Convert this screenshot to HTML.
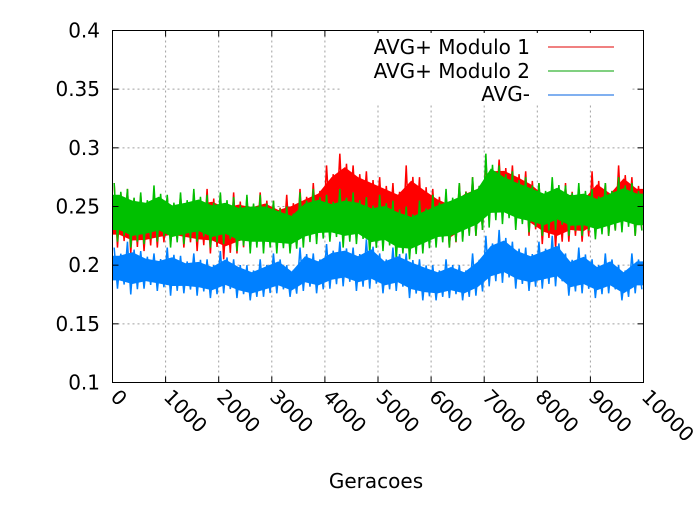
<!DOCTYPE html>
<html><head><meta charset="utf-8"><style>
body{margin:0;background:#fff}
text{font-family:"DejaVu Sans","Liberation Sans",sans-serif;font-size:20px;fill:#000}
</style></head><body>
<svg id="chart" width="700" height="500" viewBox="0 0 700 500" xmlns="http://www.w3.org/2000/svg">
<g id="grid"></g>
<g id="series"></g>
<rect x="112.5" y="30.5" width="531" height="352" fill="none" stroke="#000" stroke-width="1"/>
<g id="ticks"></g>
<text x="376" y="488" text-anchor="middle">Geracoes</text>
<rect x="340" y="33" width="290" height="72" fill="#fff"/>
<g>
<text x="530" y="54" text-anchor="end">AVG+ Modulo 1</text>
<line x1="548" y1="47" x2="614" y2="47" stroke="#e00000" stroke-width="1"/>
<text x="530" y="78" text-anchor="end">AVG+ Modulo 2</text>
<line x1="548" y1="71" x2="614" y2="71" stroke="#00a000" stroke-width="1"/>
<text x="530" y="101" text-anchor="end">AVG-</text>
<line x1="548" y1="95" x2="614" y2="95" stroke="#0060e0" stroke-width="1"/>
</g>
</svg>
<script>
const xTicks=[0,1000,2000,3000,4000,5000,6000,7000,8000,9000,10000];
const yTicks=[0.1,0.15,0.2,0.25,0.3,0.35,0.4];
const yTickLabels=["0.1","0.15","0.2","0.25","0.3","0.35","0.4"];
const bucketSize=250;
const blueHi=[0.215,0.22,0.212,0.21,0.215,0.208,0.21,0.205,0.212,0.205,0.2,0.205,0.21,0.2,0.215,0.21,0.218,0.22,0.215,0.222,0.21,0.215,0.21,0.205,0.2,0.205,0.2,0.21,0.225,0.23,0.22,0.215,0.22,0.225,0.21,0.215,0.205,0.21,0.2,0.21];
const blueLo=[0.18,0.175,0.18,0.178,0.174,0.176,0.174,0.172,0.176,0.172,0.17,0.173,0.176,0.173,0.178,0.176,0.18,0.182,0.178,0.18,0.176,0.178,0.172,0.17,0.17,0.172,0.17,0.174,0.182,0.185,0.18,0.178,0.18,0.182,0.174,0.176,0.172,0.176,0.17,0.176];
const greenHi=[0.27,0.265,0.262,0.268,0.26,0.262,0.265,0.26,0.262,0.258,0.26,0.26,0.255,0.25,0.262,0.265,0.26,0.265,0.262,0.258,0.26,0.255,0.25,0.255,0.26,0.265,0.27,0.275,0.295,0.285,0.28,0.275,0.27,0.275,0.268,0.27,0.265,0.27,0.275,0.27];
const greenLo=[0.22,0.215,0.218,0.22,0.215,0.218,0.22,0.215,0.218,0.212,0.21,0.21,0.21,0.21,0.215,0.218,0.22,0.215,0.218,0.21,0.212,0.205,0.205,0.21,0.215,0.215,0.22,0.225,0.232,0.235,0.23,0.228,0.225,0.23,0.225,0.225,0.222,0.225,0.228,0.225];
const redHi=[0.27,0.265,0.26,0.26,0.258,0.26,0.262,0.265,0.26,0.262,0.258,0.262,0.255,0.26,0.265,0.27,0.285,0.295,0.285,0.28,0.275,0.27,0.285,0.275,0.265,0.26,0.27,0.275,0.29,0.29,0.285,0.28,0.27,0.265,0.27,0.265,0.28,0.27,0.285,0.275];
const redLo=[0.215,0.21,0.212,0.215,0.218,0.215,0.212,0.21,0.205,0.21,0.215,0.215,0.215,0.212,0.22,0.225,0.235,0.238,0.235,0.23,0.225,0.22,0.22,0.218,0.22,0.215,0.222,0.225,0.24,0.242,0.235,0.225,0.218,0.215,0.22,0.22,0.225,0.225,0.23,0.225];

const NS="http://www.w3.org/2000/svg";
const X0=112.5,X1=643.5,Y0=382.5,Y1=30.5;
function xs(v){return X0+(v-0)/(10000-0)*(X1-X0);}
function ys(v){return Y0-(v-0.1)/(0.4-0.1)*(Y0-Y1);}
function mk(tag,attrs,parent){const e=document.createElementNS(NS,tag);for(const k in attrs)e.setAttribute(k,attrs[k]);parent.appendChild(e);return e;}
const grid=document.getElementById('grid'),ticks=document.getElementById('ticks'),ser=document.getElementById('series');

xTicks.forEach((t,i)=>{
  const x=xs(t);
  if(i>0&&i<xTicks.length-1){
    const g=mk('line',{x1:x,y1:Y1,x2:x,y2:Y0,stroke:'#a0a0a0','stroke-dasharray':'2,3'},grid);
    
    
  }
  const a=mk('line',{x1:x,y1:Y0,x2:x,y2:Y0-6,stroke:'#000'},ticks);
  
  
  const b=mk('line',{x1:x,y1:Y1,x2:x,y2:Y1+6,stroke:'#000'},ticks);
  
  
  const tx=mk('text',{x:0,y:0,transform:`translate(${x-3},${398}) rotate(45)`},ticks);
  tx.textContent=String(t);
  
  
});
yTicks.forEach((t,i)=>{
  const y=ys(t);
  if(i>0&&i<yTicks.length-1){
    const g=mk('line',{x1:X0,y1:y,x2:X1,y2:y,stroke:'#a0a0a0','stroke-dasharray':'2,3'},grid);
    
    
  }
  const a=mk('line',{x1:X0,y1:y,x2:X0+6,y2:y,stroke:'#000'},ticks);
  
  
  const b=mk('line',{x1:X1,y1:y,x2:X1-6,y2:y,stroke:'#000'},ticks);
  
  
  const tx=mk('text',{x:100,y:y+7,'text-anchor':'end'},ticks);
  tx.textContent=yTickLabels[i];
  
  
});

function drawSeries(hi,lo,color,name){
  const g=mk('g',{},ser);
  
  
  const n=hi.length;
  const cx=i=>Math.min(10000,Math.max(0,(i+0.5)*bucketSize));
  let top=[],bot=[];
  for(let i=0;i<n;i++){
    const mid=(hi[i]+lo[i])/2;
    top.push(xs(cx(i))+','+ys(mid+(hi[i]-mid)*0.6));
    bot.unshift(xs(cx(i))+','+ys(mid-(mid-lo[i])*0.6));
  }
  top.unshift(xs(0)+','+ys((hi[0]+lo[0])/2+(hi[0]-lo[0])*0.3));
  top.push(xs(10000)+','+ys((hi[n-1]+lo[n-1])/2+(hi[n-1]-lo[n-1])*0.3));
  bot.push(xs(0)+','+ys((hi[0]+lo[0])/2-(hi[0]-lo[0])*0.3));
  bot.unshift(xs(10000)+','+ys((hi[n-1]+lo[n-1])/2-(hi[n-1]-lo[n-1])*0.3));
  const band=mk('polygon',{points:top.concat(bot).join(' '),fill:color},g);
  
  
  let pts=[];
  for(let i=0;i<n;i++){
    const x=xs(cx(i)),w=xs(bucketSize)-xs(0);
    pts.push((x-w*0.375)+','+ys(hi[i]));
    pts.push((x-w*0.125)+','+ys(lo[i]));
    pts.push((x+w*0.125)+','+ys(hi[i]-(hi[i]-lo[i])*0.15));
    pts.push((x+w*0.375)+','+ys(lo[i]+(hi[i]-lo[i])*0.1));
  }
  const line=mk('polyline',{points:pts.join(' '),fill:'none',stroke:color,'stroke-width':1.5},g);
  
  
}
drawSeries(redHi,redLo,'#ff0000','series-avg-plus-modulo-1');
drawSeries(greenHi,greenLo,'#00c000','series-avg-plus-modulo-2');
drawSeries(blueHi,blueLo,'#0080ff','series-avg-minus');
</script>
</body></html>
